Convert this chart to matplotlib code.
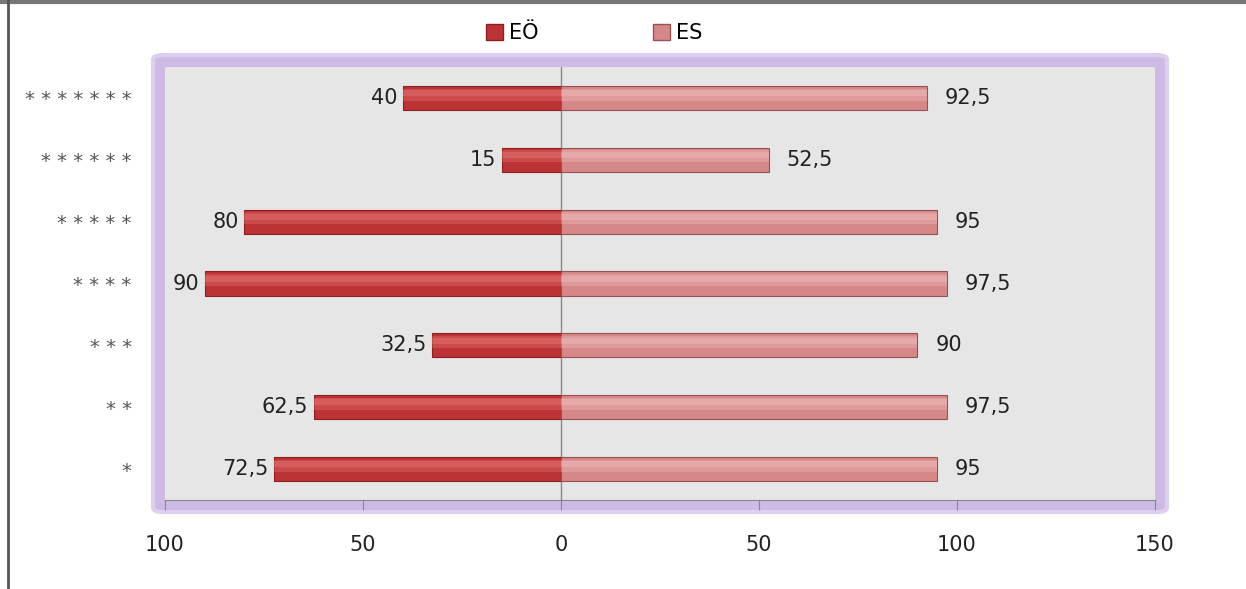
import matplotlib.pyplot as plt
from matplotlib.patches import FancyBboxPatch, Rectangle
import numpy as np

categories = ['*', '**', '***', '****', '*****', '******', '*******']
eo_values = [72.5, 62.5, 32.5, 90, 80, 15, 40]
es_values = [95, 97.5, 90, 97.5, 95, 52.5, 92.5]
xticks = [-100, -50, 0, 50, 100, 150]
xtick_labels = ['100', '50', '0', '50', '100', '150']

eo_color = '#bc3335'
eo_light = '#e87a78'
es_color = '#d68788'
es_light = '#f2c0bf'


def fmt(v):
    s = f'{v:g}'
    return s.replace('.', ',')


fig = plt.figure(figsize=(12.46, 5.89), dpi=100)
fig.patch.set_facecolor('white')

# purple glow frame behind the plot area
frame = FancyBboxPatch((153 / 1246, 1 - 512 / 589), 1014 / 1246, 457 / 589,
                       boxstyle='round,pad=0,rounding_size=0.008',
                       transform=fig.transFigure, facecolor='#cdbbe5',
                       edgecolor='#ddd0ef', linewidth=3, zorder=-5)
fig.patches.append(frame)

# thin dark border on top and left of the image
fig.add_artist(plt.Line2D([0, 1], [0.997, 0.997], transform=fig.transFigure,
                          color='#777777', linewidth=3))
fig.add_artist(plt.Line2D([0.0065, 0.0065], [0, 1], transform=fig.transFigure,
                          color='#555555', linewidth=2))

ax = fig.add_axes([165 / 1246, 1 - 500 / 589, 990 / 1246, 433 / 589])
ax.set_zorder(1)
ax.set_facecolor('#e6e6e6')

y = np.arange(len(categories))
h = 0.39

# main bars
ax.barh(y, [-v for v in eo_values], height=h, color=eo_color,
        edgecolor='#8a2022', linewidth=0.8, zorder=2, label='EÖ')
ax.barh(y, es_values, height=h, color=es_color,
        edgecolor='#965253', linewidth=0.8, zorder=2, label='ES')
# soft highlight bands on the upper part for a bevel look
ax.barh(y + h * 0.14, [-v for v in eo_values], height=h * 0.5,
        color=eo_light, linewidth=0, zorder=3, alpha=0.35)
ax.barh(y + h * 0.14, es_values, height=h * 0.5,
        color=es_light, linewidth=0, zorder=3, alpha=0.35)
ax.barh(y + h * 0.2, [-v for v in eo_values], height=h * 0.25,
        color=eo_light, linewidth=0, zorder=3, alpha=0.4)
ax.barh(y + h * 0.2, es_values, height=h * 0.25,
        color=es_light, linewidth=0, zorder=3, alpha=0.4)

for yi, v in zip(y, eo_values):
    ax.text(-v - 1.3, yi, fmt(v), ha='right', va='center',
            fontsize=15, color='#222222', zorder=4)
for yi, v in zip(y, es_values):
    ax.text(v + 4.5, yi, fmt(v), ha='left', va='center',
            fontsize=15, color='#222222', zorder=4)

ax.axvline(0, color='#888888', linewidth=1, zorder=1)

ax.set_xlim(-100, 150)
ax.set_ylim(-0.5, len(categories) - 0.5)
ax.set_xticks(xticks)
ax.set_xticklabels(xtick_labels, fontsize=15, color='#222222')
ax.set_yticks(y)
ax.set_yticklabels([' '.join(c) for c in categories], fontsize=14,
                   color='#555555')
ax.tick_params(axis='x', direction='out', length=7, color='#888888', pad=18)
ax.tick_params(axis='y', length=0, pad=24)

for side in ['top', 'right', 'left']:
    ax.spines[side].set_visible(False)
ax.spines['bottom'].set_color('#888888')

handles = [Rectangle((0, 0), 1, 1, facecolor=eo_color, edgecolor='#8a2022'),
           Rectangle((0, 0), 1, 1, facecolor=es_color, edgecolor='#965253')]
fig.legend(handles, ['EÖ', 'ES'], loc='center', bbox_to_anchor=(0.477, 0.944),
           ncol=2, frameon=False, fontsize=15, handlelength=0.8,
           handleheight=0.8, handletextpad=0.3, columnspacing=5.5)

fig.savefig('out.png', dpi=100)
